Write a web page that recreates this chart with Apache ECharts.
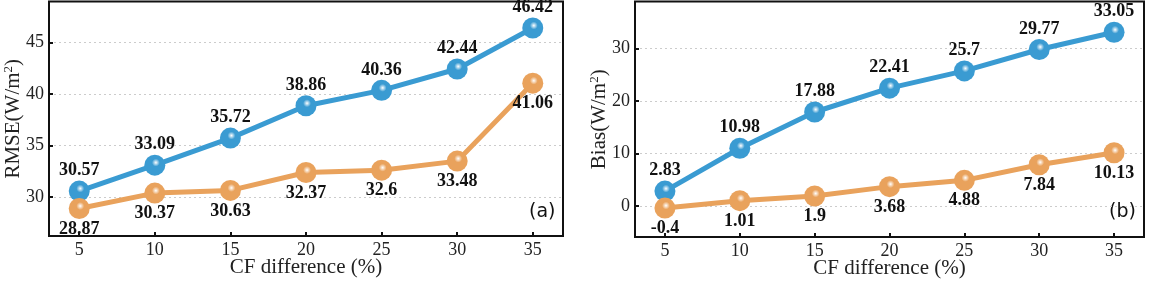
<!DOCTYPE html>
<html><head><meta charset="utf-8">
<script src="https://cdn.jsdelivr.net/npm/echarts@6/dist/echarts.min.js"></script>
<style>html,body{margin:0;padding:0;background:#fff}#c{width:1152px;height:289px}</style>
</head><body><div id="c"></div>
<script>
const categories = [5, 10, 15, 20, 25, 30, 35];
const rmseBlue = [30.57, 33.09, 35.72, 38.86, 40.36, 42.44, 46.42];
const rmseOrange = [28.87, 30.37, 30.63, 32.37, 32.6, 33.48, 41.06];
const biasBlue = [2.83, 10.98, 17.88, 22.41, 25.7, 29.77, 33.05];
const biasOrange = [-0.4, 1.01, 1.9, 3.68, 4.88, 7.84, 10.13];
const rmseTicks = [30, 35, 40, 45];
const biasTicks = [0, 10, 20, 30];

const BLUE = '#3a9bd2', ORANGE = '#e9a25c';
function sphere(c){
  return {type:'radial', x:0.55, y:0.38, r:0.62, colorStops:[
    {offset:0, color:'#ffffff'},{offset:0.3, color:c},{offset:1, color:c}]};
}
const serif = 'Liberation Serif';
function pairs(v){ return categories.map((x,i)=>[x, v[i]]); }
function ser(data, color, idx, pos){
  return {type:'line', xAxisIndex:idx, yAxisIndex:idx, data:pairs(data),
    symbol:'circle', symbolSize:21,
    lineStyle:{color:color, width:5},
    itemStyle:{color:sphere(color), borderWidth:0},
    label:{show:true, position:pos, distance:1, fontFamily:serif, fontWeight:'bold', fontSize:18, color:'#111',
      formatter:p=>String(p.value[1])},
    z: 3};
}
function xAx(idx){
  return {type:'value', gridIndex:idx, min:3, max:37,
    name:'CF difference (%)', nameLocation:'middle', nameGap:21, nameMoveOverlap:false,
    nameTextStyle:{fontFamily:serif, fontSize:21, color:'#222'},
    axisLine:{show:false, onZero:false},
    axisTick:{show:true, inside:true, length:4, customValues:categories, lineStyle:{color:'#111', width:2}},
    axisLabel:{customValues:categories, fontFamily:serif, fontSize:18, color:'#222', margin:5},
    splitLine:{show:false}};
}
function yAx(idx, min, max, ticks, name){
  return {type:'value', gridIndex:idx, min:min, max:max,
    name:name, nameLocation:'middle', nameGap:25, nameMoveOverlap:false,
    nameTextStyle:{fontFamily:serif, fontSize:21, color:'#222', rich:{sup:{fontFamily:serif, fontSize:13, verticalAlign:'top', color:'#222', padding:[0,0,9,0]}}},
    axisLine:{show:false, onZero:false},
    axisTick:{show:true, inside:true, length:4, customValues:ticks, lineStyle:{color:'#111', width:2}},
    axisLabel:{customValues:ticks, fontFamily:serif, fontSize:18, color:'#222', margin:5},
    splitLine:{show:true, lineStyle:{color:'#cccccc', type:[2,3], width:1}}};
}
const chart = echarts.init(document.getElementById('c'));
chart.setOption({
  animation:false,
  grid:[
    {left:49, right:589, top:1.5, bottom:53, show:true, borderColor:'#111', borderWidth:2, backgroundColor:'transparent', outerBoundsMode:'none', containLabel:false},
    {left:635, right:8, top:1.5, bottom:52, show:true, borderColor:'#111', borderWidth:2, backgroundColor:'transparent', outerBoundsMode:'none', containLabel:false}
  ],
  xAxis:[xAx(0), xAx(1)],
  yAxis:[yAx(0, 26.2, 49, rmseTicks, 'RMSE(W/m{sup|2})'), yAx(1, -5.9, 38.9, biasTicks, 'Bias(W/m{sup|2})')],
  series:[
    ser(rmseBlue, BLUE, 0, 'top'), ser(rmseOrange, ORANGE, 0, 'bottom'),
    ser(biasBlue, BLUE, 1, 'top'), ser(biasOrange, ORANGE, 1, 'bottom')
  ],
  graphic:[
    {type:'text', left:529, top:203, style:{text:'(a)', font:'19px "DejaVu Sans"', fill:'#111'}},
    {type:'text', left:1109, top:203, style:{text:'(b)', font:'19px "DejaVu Sans"', fill:'#111'}}
  ]
});
</script></body></html>
